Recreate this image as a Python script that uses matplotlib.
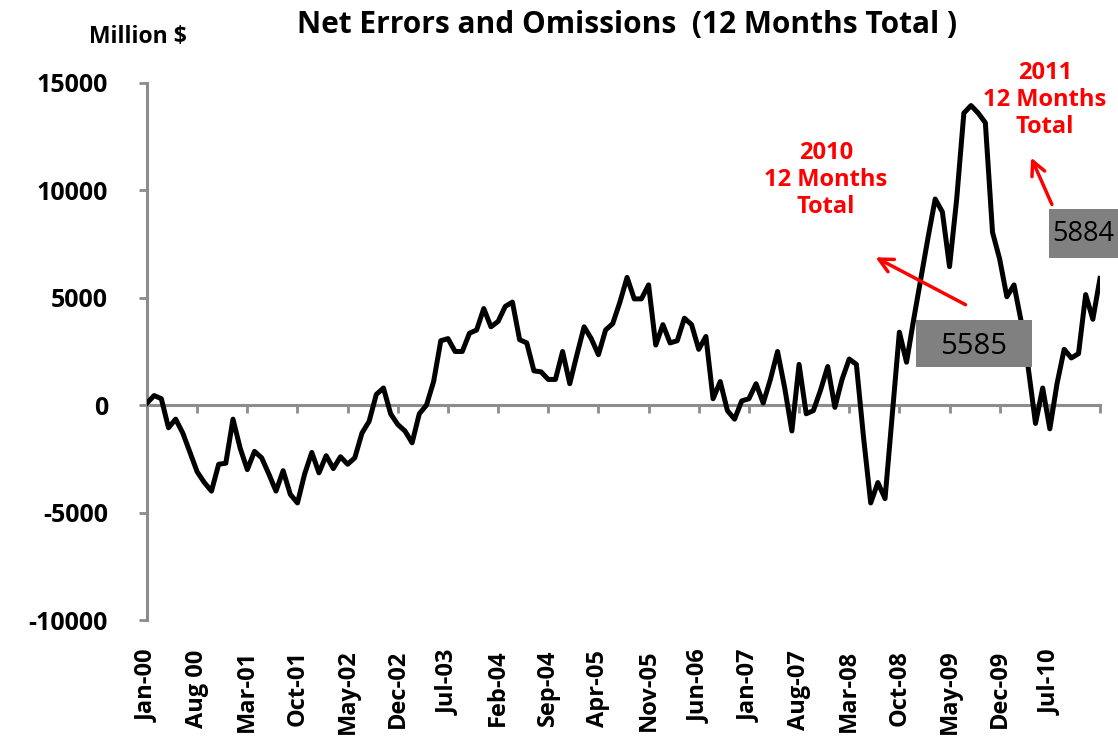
import numpy as np
import matplotlib
matplotlib.use("Agg")
import matplotlib.pyplot as plt
from matplotlib.patches import Rectangle, FancyArrowPatch

# monthly 12-month total of net errors and omissions, Jan-00 .. Feb-11 (million $)
net_eo = [
    100, 450, 300, -1050, -650, -1300, -2200, -3100, -3600, -4000,
    -2750, -2700, -650, -2000, -3000, -2150, -2450, -3200, -4000, -3050,
    -4150, -4550, -3200, -2200, -3150, -2350, -2950, -2400, -2750, -2450,
    -1300, -750, 500, 800, -400, -900, -1200, -1750, -400, 0,
    1100, 3000, 3100, 2500, 2500, 3350, 3500, 4500, 3650, 3900,
    4600, 4800, 3050, 2900, 1600, 1550, 1200, 1200, 2500, 1000,
    2350, 3650, 3100, 2350, 3500, 3800, 4800, 5950, 4950, 4950,
    5600, 2800, 3750, 2900, 3000, 4050, 3750, 2600, 3200, 300,
    1100, -250, -650, 200, 300, 1000, 100, 1200, 2500, 800,
    -1200, 1900, -400, -250, 700, 1800, -100, 1200, 2150, 1900,
    -1500, -4550, -3600, -4350, -500, 3400, 2000, 4000, 5900, 7800,
    9600, 9000, 6450, 9600, 13600, 13950, 13600, 13150, 8050, 6800,
    5050, 5600, 3900, 1700, -850, 800, -1100, 1000, 2600, 2200,
    2400, 5150, 4000, 5900,
]

tick_labels = ["Jan-00", "Aug 00", "Mar-01", "Oct-01", "May-02", "Dec-02",
               "Jul-03", "Feb-04", "Sep-04", "Apr-05", "Nov-05", "Jun-06",
               "Jan-07", "Aug-07", "Mar-08", "Oct-08", "May-09", "Dec-09",
               "Jul-10"]
y_ticks = [-10000, -5000, 0, 5000, 10000, 15000]

value_2010 = 5585
value_2011 = 5884

plt.rcParams["font.family"] = ["Open Sans", "DejaVu Sans"]

W, H = 1118, 742
fig = plt.figure(figsize=(W / 100, H / 100), dpi=100)


def px(x, y):
    # pixel position (from top-left) -> figure fraction
    return x / W, 1 - y / H


ax = fig.add_axes([147 / W, 1 - 620 / H, (1100 - 147) / W, (620 - 83) / H])

grey = "#8c8c8c"
for s in ["top", "right"]:
    ax.spines[s].set_visible(False)
# set spine position before the ticks, it resets them
ax.spines["bottom"].set_position(("data", 0))
ax.spines["bottom"].set_color(grey)
ax.spines["left"].set_color(grey)
ax.spines["bottom"].set_linewidth(2.2)
ax.spines["left"].set_linewidth(2.2)

x = np.arange(len(net_eo))
ax.plot(x, net_eo, color="black", lw=3.6, solid_joinstyle="round", zorder=3)

ax.set_xlim(0, len(net_eo) - 1)
ax.set_ylim(-10000, 15000)
ax.set_yticks(y_ticks)
ax.set_yticklabels([str(v) for v in y_ticks], fontsize=18, fontweight="bold")

ax.set_xticks(x[::7][:len(tick_labels)].tolist() + [len(net_eo) - 1])
ax.set_xticklabels(tick_labels + [""], rotation=90, fontsize=17, fontweight="bold")

ax.tick_params(axis="y", direction="out", length=6, width=2, color=grey, pad=22)
ax.tick_params(axis="x", direction="out", length=6, width=2, color=grey, pad=170)

fig.text(*px(627, 25), "Net Errors and Omissions  (12 Months Total )",
         ha="center", va="center", fontsize=21.5, fontweight="bold")
fig.text(*px(138, 37), "Million $", ha="center", va="center",
         fontsize=16.5, fontweight="bold")

# red annotations
fig.text(*px(826, 180), "2010\n12 Months\nTotal", ha="center", va="center",
         color="red", fontsize=17, fontweight="bold", linespacing=1.15)
fig.text(*px(1045, 100), "2011\n12 Months\nTotal", ha="center", va="center",
         color="red", fontsize=17, fontweight="bold", linespacing=1.15)

fig.add_artist(FancyArrowPatch(
    px(968, 306), px(873, 256), transform=fig.transFigure,
    arrowstyle="->,head_length=10,head_width=5", color="red", lw=2.5,
    mutation_scale=1))
fig.add_artist(FancyArrowPatch(
    px(1053, 207), px(1030, 155), transform=fig.transFigure,
    arrowstyle="->,head_length=10,head_width=5", color="red", lw=2.5,
    mutation_scale=1))

# grey value boxes
box_grey = "#808080"
fig.add_artist(Rectangle(px(916, 367), 116 / W, 47 / H, transform=fig.transFigure,
                         facecolor=box_grey, edgecolor="none", zorder=5))
fig.text(*px(974, 347), str(value_2010), ha="center", va="center",
         fontsize=21, zorder=6)
fig.add_artist(Rectangle(px(1049, 258), 80 / W, 49 / H, transform=fig.transFigure,
                         facecolor=box_grey, edgecolor="none", zorder=5))
fig.text(*px(1052, 234), str(value_2011), ha="left", va="center",
         fontsize=19.5, zorder=6)

fig.savefig("out.png", dpi=100)
